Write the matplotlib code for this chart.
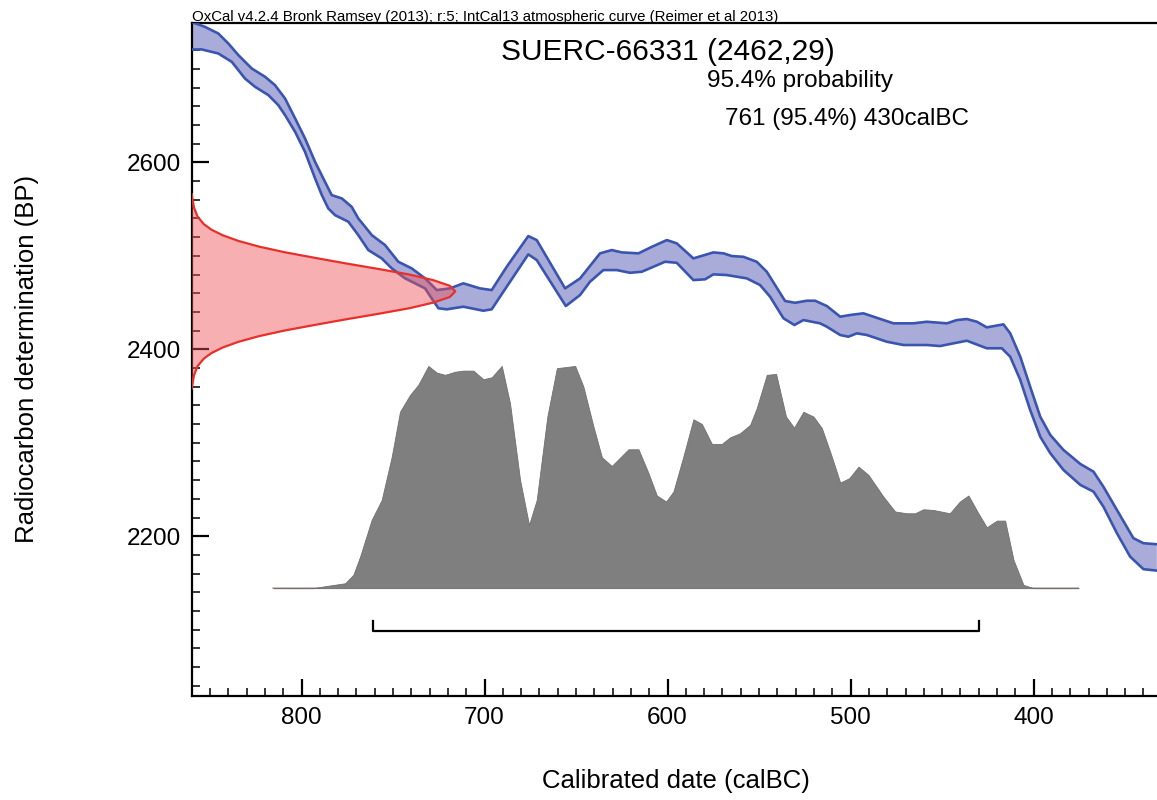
import matplotlib

matplotlib.use("Agg")
import matplotlib.pyplot as plt
import numpy as np
from matplotlib.ticker import MultipleLocator

plt.rcParams["font.family"] = ["Liberation Sans", "DejaVu Sans"]

# IntCal13 band, upper and lower edges (calBC, BP)
upper_date = [860, 852.7, 845.5, 840, 834.5, 827.2, 819.9, 814.5, 809, 803.5, 798.1, 792.6, 787.2,
              783.5, 778, 772.6, 769, 761.6, 754.4, 747.1, 739.8, 732.5, 726.1, 718.9, 711.6, 702.5,
              696.1, 687.9, 676.1, 671.5, 656, 647.8, 636.9, 630.5, 625, 615.9, 608.6, 600.4, 595,
              585.9, 575, 569.5, 564.9, 558.6, 551.3, 545.8, 535.8, 530.3, 523.9, 519.4, 513, 505.7,
              500.3, 493, 487.5, 476.6, 465.7, 458.4, 447.4, 442, 436.5, 431, 425.6, 416.5, 412.8,
              407.3, 401.9, 396.4, 390.9, 383.7, 374.5, 367.3, 361.9, 354.5, 345.5, 340, 332.7]
upper_bp = [2750.4, 2745, 2738, 2727.3, 2714.8, 2700.5, 2691.6, 2682.7, 2668.4, 2647.1, 2625.7,
            2600.6, 2579.3, 2565, 2561.5, 2552.5, 2540.1, 2522.2, 2511.6, 2493.7, 2486.6, 2475.9,
            2463.4, 2465.2, 2470.6, 2465.2, 2463.4, 2488.3, 2521.2, 2516.9, 2465.2, 2475.9, 2502.7,
            2506.2, 2503.7, 2502.7, 2509.7, 2516.9, 2513.4, 2497.3, 2503.7, 2502.7, 2499.8, 2499,
            2493.7, 2483, 2451.7, 2449.8, 2452, 2452, 2446.3, 2434.9, 2436.7, 2438.5, 2434.9,
            2427.8, 2427.8, 2429.5, 2427.8, 2431.3, 2432.4, 2429.5, 2423.5, 2426.7, 2417.1, 2392.1,
            2360, 2327.9, 2308.3, 2292.3, 2277.3, 2269.1, 2253, 2228.1, 2197.9, 2192.5, 2191.4]
lower_date = [860, 854.5, 845.5, 838.1, 830.9, 825.4, 818.1, 812.7, 809, 803.5, 798.1, 792.6, 788.9,
              785.4, 781.7, 774.4, 769, 763.5, 756.2, 750.7, 743.4, 732.5, 728.9, 725.2, 720.6,
              711.6, 700.7, 696.1, 687.9, 676.1, 671.5, 655.6, 647.8, 642.4, 635.1, 627.8, 620.5,
              614.1, 607.8, 601.4, 595, 585.9, 579.5, 575, 567.7, 556.7, 549.5, 544, 536.7, 530.7,
              525.8, 516.7, 513, 505.7, 501.2, 496.6, 491.1, 480.2, 471.1, 458.4, 451.1, 443.8,
              436.5, 425.6, 417.4, 412.8, 407.3, 401.9, 396.4, 390.9, 383.7, 374.5, 367.3, 361.9,
              354.5, 347.3, 340, 332.7]
lower_bp = [2720.9, 2720.9, 2716.6, 2707.6, 2689.8, 2680.9, 2672, 2661.3, 2650.6, 2632.7, 2611.3,
            2582.9, 2565, 2550.8, 2543.6, 2536.5, 2522.2, 2506.2, 2497.3, 2486.6, 2475.9, 2465.2,
            2454.5, 2443.9, 2442.8, 2445.6, 2441.3, 2442.8, 2467, 2501.6, 2495.5, 2446.3, 2458.1,
            2472.3, 2484.8, 2484.8, 2481.9, 2483, 2488.3, 2493.7, 2492.6, 2474.1, 2474.9, 2480.2,
            2479.5, 2475.9, 2468.8, 2456.3, 2433.2, 2426, 2431.3, 2427.8, 2424.2, 2415.3, 2413.5,
            2417.1, 2415.3, 2408.1, 2404.6, 2404.6, 2403.5, 2406.4, 2409.2, 2401.1, 2401.1, 2392.1,
            2367.2, 2335.1, 2306.5, 2288.8, 2270.9, 2254.9, 2247.7, 2231.7, 2203.2, 2178.2, 2164.7,
            2163.2]

# measurement SUERC-66331: BP level vs. width of the drawn distribution (years)
meas_bp = [2566, 2552, 2542, 2534, 2528, 2522, 2516, 2510, 2504, 2498, 2492, 2486, 2480, 2474,
           2468, 2462, 2456, 2450, 2444, 2438, 2432, 2426, 2420, 2414, 2408, 2402, 2396, 2390,
           2382, 2372, 2358]
meas_width = [0, 1.2, 3.2, 6.6, 10.8, 17, 25.5, 36.6, 50.5, 67, 84, 102, 119, 132, 141, 144,
              141, 132, 119, 102, 84, 67, 50.5, 36.6, 25.5, 17, 10.8, 6.6, 3.2, 1.2, 0]

# calibrated probability (relative to peak)
prob_date = [815.4, 793.6, 786.2, 776.2, 771.7, 768, 761.7, 756.2, 750.7, 746.2, 740.7, 736.2, 730.7,
             726.1, 721.6, 716.1, 711.6, 706.1, 700.7, 696.1, 690.6, 686.1, 680.6, 675.7, 671.5,
             665.7, 660.5, 650.5, 646, 640.5, 635.9, 630.5, 621.4, 615.9, 610.4, 605.9, 600.8,
             596.8, 591.4, 585.9, 581.3, 575.8, 570.4, 565.8, 560.4, 554.9, 551.3, 545.8, 540.7,
             535.3, 530.9, 525.8, 520.3, 515.7, 510.3, 505.7, 500.7, 495.7, 490.3, 482.1, 475.7,
             469.3, 464.8, 460.3, 454.8, 445.8, 440.3, 435.6, 430.2, 425.6, 420.1, 415.6, 411,
             405.6, 400.1, 375.5]
prob_value = [0, 0, 0.01, 0.022, 0.06, 0.142, 0.307, 0.397, 0.592, 0.794, 0.87, 0.915, 1.0,
              0.97, 0.96, 0.974, 0.979, 0.979, 0.94, 0.949, 1.0, 0.832, 0.487, 0.285, 0.397,
              0.772, 0.99, 1.0, 0.907, 0.727, 0.589, 0.55, 0.625, 0.625, 0.517, 0.417, 0.39,
              0.435, 0.592, 0.76, 0.739, 0.649, 0.649, 0.679, 0.697, 0.735, 0.81, 0.96, 0.964,
              0.772, 0.722, 0.794, 0.772, 0.72, 0.592, 0.475, 0.495, 0.547, 0.51, 0.412, 0.345,
              0.337, 0.337, 0.355, 0.352, 0.337, 0.39, 0.417, 0.337, 0.274, 0.304, 0.304, 0.127,
              0.015, 0, 0]

range_from, range_to = 761, 430
x_ticks = [800, 700, 600, 500, 400]
y_ticks = [2200, 2400, 2600]

fig = plt.figure(figsize=(11.57, 8), dpi=100)
ax = fig.add_axes([0.1657, 0.13, 0.8343, 0.8416])
ax.set_xlim(860, 332.6)
ax.set_ylim(2029, 2749.5)

# calibration curve band
ax.fill(np.r_[upper_date, lower_date[::-1]], np.r_[upper_bp, lower_bp[::-1]],
        facecolor="#a9acd9", edgecolor="none", zorder=2)
ax.plot(upper_date, upper_bp, color="#3a55b0", lw=1.9, zorder=3, solid_joinstyle="round")
ax.plot(lower_date, lower_bp, color="#3a55b0", lw=1.9, zorder=3, solid_joinstyle="round")

# measured radiocarbon date on the y axis
x0 = ax.get_xlim()[0]
mx = x0 - np.array(meas_width)
ax.fill_betweenx(meas_bp, x0, mx, facecolor="#ef4f56", alpha=0.45, edgecolor="none", zorder=4)
ax.plot(mx, meas_bp, color="#e8302a", lw=1.6, zorder=5)

# calibrated distribution
base = 2144.4
scale = 237.8
top = base + np.array(prob_value) * scale
ax.fill_between(prob_date, base, top, facecolor="#7f7f7f", edgecolor="#707070", lw=0.6, zorder=2)
ax.plot([prob_date[0], prob_date[-1]], [base, base], color="#c9b2ab", lw=1.2, zorder=1)

# 95.4% range bracket
ax.plot([range_from, range_from, range_to, range_to], [2109.5, 2099, 2099, 2109.5],
        color="black", lw=1.6, zorder=3)

ax.xaxis.set_major_locator(plt.FixedLocator(x_ticks))
ax.xaxis.set_minor_locator(MultipleLocator(10))
ax.yaxis.set_major_locator(plt.FixedLocator(y_ticks))
ax.yaxis.set_minor_locator(MultipleLocator(20))
ax.tick_params(which="both", direction="in", labelsize=17.5, pad=8, color="black")
ax.tick_params(which="major", length=12, width=1.6)
ax.tick_params(which="minor", length=5.5, width=1.1)
for side in ("left", "bottom", "top"):
    ax.spines[side].set_linewidth(1.6)
ax.spines["right"].set_visible(False)

fig.text(0.1662, 1 - 21.5 / 800, "OxCal v4.2.4 Bronk Ramsey (2013); r:5; IntCal13 atmospheric curve (Reimer et al 2013)",
         fontsize=10.85, ha="left", va="baseline")
fig.text(501 / 1157, 1 - 52 / 800, "SUERC-66331 (2462,29)", fontsize=21.5, ha="left", va="center")
fig.text(707 / 1157, 1 - 81 / 800, "95.4% probability", fontsize=17.5, ha="left", va="center")
fig.text(725 / 1157, 1 - 119 / 800, "761 (95.4%) 430calBC", fontsize=17.5, ha="left", va="center")
fig.text(676 / 1157, 1 - 781 / 800, "Calibrated date (calBC)", fontsize=18.5, ha="center", va="center")
fig.text(27 / 1157, 1 - 359 / 800, "Radiocarbon determination (BP)", fontsize=18.5,
         ha="center", va="center", rotation=90)

fig.savefig("out.png", dpi=100)
